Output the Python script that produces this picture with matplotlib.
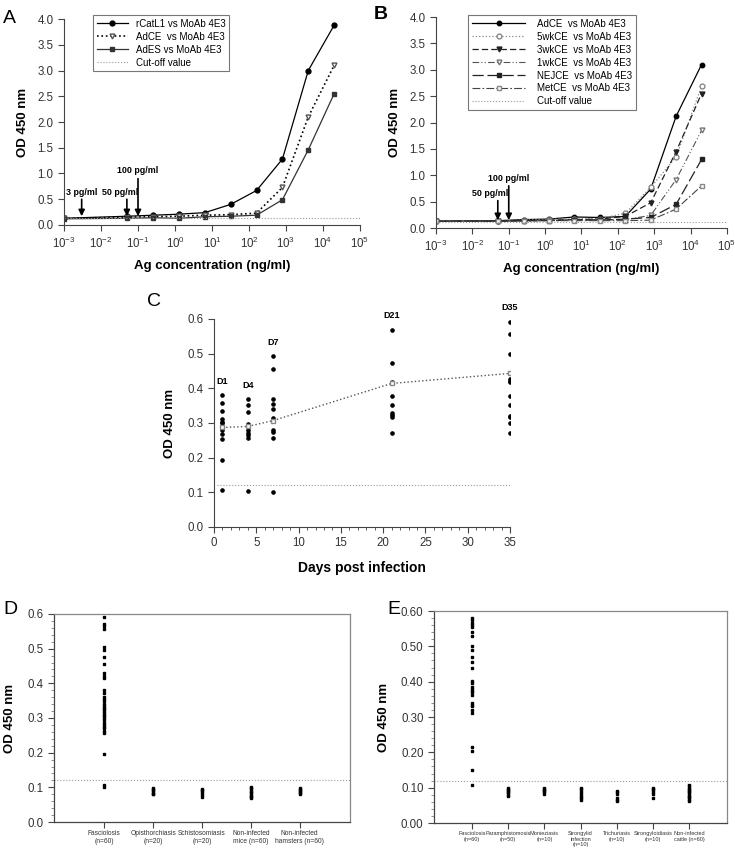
import numpy as np
import matplotlib
matplotlib.use("Agg")
import matplotlib.pyplot as plt
from matplotlib.ticker import LogLocator, MultipleLocator, NullLocator, FormatStrFormatter

plt.rcParams['font.family'] = ['Liberation Sans', 'DejaVu Sans']
plt.rcParams['axes.linewidth'] = 0.8

# ---- data: panel A (antigen titration) ----
conc = [0.001, 0.0512, 0.256, 1.28, 6.4, 32, 160, 800, 4000, 20000]
a_rcatl1 = [0.13, 0.17, 0.19, 0.21, 0.24, 0.40, 0.67, 1.28, 3.00, 3.88]
a_adce = [0.13, 0.15, 0.16, 0.17, 0.19, 0.20, 0.23, 0.73, 2.10, 3.10]
a_ades = [0.12, 0.13, 0.14, 0.13, 0.16, 0.17, 0.19, 0.49, 1.46, 2.55]
a_cutoff = 0.13

# ---- panel B (stage extracts) ----
b_adce = [0.13, 0.14, 0.16, 0.17, 0.21, 0.20, 0.22, 0.74, 2.12, 3.10]
b_5wk = [0.13, 0.13, 0.15, 0.17, 0.17, 0.18, 0.28, 0.77, 1.35, 2.69]
b_3wk = [0.13, 0.13, 0.14, 0.15, 0.16, 0.17, 0.22, 0.48, 1.45, 2.55]
b_1wk = [0.13, 0.13, 0.14, 0.15, 0.15, 0.16, 0.16, 0.24, 0.92, 1.85]
b_nej = [0.13, 0.13, 0.14, 0.14, 0.15, 0.15, 0.17, 0.20, 0.45, 1.30]
b_met = [0.13, 0.13, 0.13, 0.14, 0.14, 0.14, 0.14, 0.15, 0.36, 0.80]
b_cutoff = 0.12

# ---- panel C (days post infection) ----
days = [1, 4, 7, 21, 35]
day_labels = ['D1', 'D4', 'D7', 'D21', 'D35']
c_d1 = [0.380, 0.359, 0.335, 0.311, 0.304, 0.300, 0.287, 0.280, 0.268, 0.255, 0.193, 0.107]
c_d4 = [0.368, 0.353, 0.333, 0.297, 0.289, 0.280, 0.272, 0.265, 0.257, 0.104]
c_d7 = [0.492, 0.455, 0.368, 0.355, 0.340, 0.313, 0.305, 0.280, 0.275, 0.257, 0.101]
c_d21 = [0.569, 0.472, 0.417, 0.379, 0.351, 0.328, 0.323, 0.318, 0.270]
c_d35 = [0.591, 0.556, 0.500, 0.428, 0.422, 0.417, 0.379, 0.351, 0.320, 0.316, 0.300, 0.270]
c_means = [0.287, 0.290, 0.307, 0.414, 0.443]
c_cutoff = 0.12

# ---- panel D (mouse / hamster sera) ----
d_groups = ['Fasciolosis\n(n=60)', 'Opisthorchiasis\n(n=20)', 'Schistosomiasis\n(n=20)',
            'Non-infected\nmice (n=60)', 'Non-infected\nhamsters (n=60)']
d_fasc = [0.591, 0.571, 0.564, 0.557, 0.504, 0.497, 0.475, 0.456, 0.429, 0.421, 0.415,
          0.381, 0.371, 0.362, 0.355, 0.348, 0.340, 0.335, 0.330, 0.325, 0.320, 0.315,
          0.310, 0.305, 0.300, 0.295, 0.285, 0.280, 0.275, 0.270, 0.262, 0.256, 0.195,
          0.106, 0.101]
d_opis = [0.097, 0.094, 0.091, 0.088, 0.085, 0.082, 0.080]
d_schi = [0.096, 0.092, 0.088, 0.083, 0.078, 0.073]
d_mice = [0.100, 0.097, 0.094, 0.090, 0.087, 0.083, 0.079, 0.075, 0.071, 0.068]
d_hams = [0.099, 0.096, 0.093, 0.090, 0.087, 0.084, 0.081]
d_cutoff = 0.12

# ---- panel E (cattle sera) ----
e_groups = ['Fasciolosis\n(n=60)', 'Paramphistomosis\n(n=50)', 'Monieziasis\n(n=10)',
            'Strongylid\ninfection\n(n=10)', 'Trichuriasis\n(n=10)', 'Strongyloidiasis\n(n=10)',
            'Non-infected\ncattle (n=60)']
e_fasc = [0.580, 0.575, 0.565, 0.560, 0.555, 0.540, 0.530, 0.500, 0.490, 0.470, 0.455,
          0.440, 0.402, 0.395, 0.385, 0.380, 0.375, 0.370, 0.362, 0.340, 0.335, 0.330,
          0.320, 0.310, 0.215, 0.203, 0.150, 0.108]
e_para = [0.100, 0.097, 0.094, 0.090, 0.087, 0.084, 0.080, 0.077]
e_moni = [0.100, 0.097, 0.094, 0.090, 0.087, 0.083]
e_stro = [0.100, 0.095, 0.090, 0.085, 0.080, 0.075, 0.070, 0.066]
e_tric = [0.092, 0.088, 0.083, 0.070, 0.065, 0.061]
e_styl = [0.100, 0.097, 0.093, 0.088, 0.083, 0.070]
e_catt = [0.107, 0.104, 0.100, 0.097, 0.094, 0.090, 0.087, 0.084, 0.080, 0.077,
          0.073, 0.070, 0.065, 0.061]
e_cutoff = 0.12

TICK_COL = '#333333'
GREY = '#9a9a9a'
TICK_FS = 8.3


def style_open(ax):
    # only left/bottom spines, outward ticks
    ax.spines['top'].set_visible(False)
    ax.spines['right'].set_visible(False)
    for s in ('left', 'bottom'):
        ax.spines[s].set_color('#444444')
    ax.tick_params(direction='out', length=4, width=0.8, colors='#444444',
                   labelsize=TICK_FS, labelcolor=TICK_COL)


def titration_axes(ax):
    style_open(ax)
    ax.set_xscale('log')
    ax.set_xlim(1e-3, 1e5)
    ax.set_ylim(0, 4.0)
    ax.xaxis.set_major_locator(LogLocator(base=10, numticks=20))
    ax.xaxis.set_minor_locator(NullLocator())
    ax.yaxis.set_major_locator(MultipleLocator(0.5))
    ax.yaxis.set_major_formatter(FormatStrFormatter('%.1f'))
    ax.set_xlabel('Ag concentration (ng/ml)', fontsize=9.5, fontweight='bold', labelpad=7)
    ax.set_ylabel('OD 450 nm', fontsize=9.5, fontweight='bold', labelpad=6)


def arrow(ax, x, y0, y1, label, ty, dx=0):
    ax.annotate('', xy=(x, y1), xytext=(x, y0),
                arrowprops=dict(arrowstyle='-|>', color='black', lw=1.2,
                                mutation_scale=9, shrinkA=0, shrinkB=0))
    ax.text(x * dx if dx else x, ty, label, ha='center', va='bottom',
            fontsize=6.4, fontweight='bold')


fig = plt.figure(figsize=(7.35, 8.49), dpi=100)

# ================= A =================
axA = fig.add_axes([0.0871, 0.735, 0.4027, 0.2426])
titration_axes(axA)
axA.plot(conc, a_rcatl1, '-', color='black', lw=0.9, marker='o', ms=3.5,
         label='rCatL1 vs MoAb 4E3')
axA.plot(conc, a_adce, ':', color='black', lw=1.2, marker='v', ms=3.5, mfc='white',
         mec='#555555', label='AdCE  vs MoAb 4E3')
axA.plot(conc, a_ades, '-', color='#333333', lw=0.9, marker='s', ms=3.5,
         label='AdES vs MoAb 4E3')
axA.axhline(a_cutoff, color=GREY, ls=':', lw=0.8, label='Cut-off value')
arrow(axA, 0.003, 0.50, 0.17, '3 pg/ml', 0.55)
arrow(axA, 0.05, 0.50, 0.17, '50 pg/ml', 0.55, dx=0.66)
arrow(axA, 0.1, 0.90, 0.17, '100 pg/ml', 0.97)
legA = axA.legend(loc='upper left', bbox_to_anchor=(0.098, 1.02), borderaxespad=0,
                  fontsize=7, frameon=True, fancybox=False, handlelength=3.2,
                  labelspacing=0.3, borderpad=0.4, handletextpad=0.8)
legA.get_frame().set_edgecolor('#555555')
legA.get_frame().set_linewidth(0.8)
fig.text(0.004, 0.988, 'A', fontsize=14, va='top')

# ================= B =================
axB = fig.add_axes([0.5932, 0.7314, 0.3959, 0.2485])
titration_axes(axB)
axB.plot(conc, b_adce, '-', color='black', lw=0.9, marker='o', ms=3.2,
         label='AdCE  vs MoAb 4E3')
axB.plot(conc, b_5wk, ':', color='#888888', lw=0.9, marker='o', ms=3.5, mfc='white',
         mec='#888888', label='5wkCE  vs MoAb 4E3')
axB.plot(conc, b_3wk, '--', color='#222222', lw=0.9, marker='v', ms=3.5,
         dashes=(5, 2.5), label='3wkCE  vs MoAb 4E3')
axB.plot(conc, b_1wk, '-', color='#555555', lw=0.8, marker='v', ms=3.5, mfc='white',
         mec='#777777', dashes=(6, 2, 1, 2, 1, 2), label='1wkCE  vs MoAb 4E3')
axB.plot(conc, b_nej, '--', color='#222222', lw=0.9, marker='s', ms=3.2,
         dashes=(9, 3), label='NEJCE  vs MoAb 4E3')
axB.plot(conc, b_met, '-.', color='#444444', lw=0.8, marker='s', ms=3.5, mfc='white',
         mec='#888888', dashes=(7, 2, 1.5, 2), label='MetCE  vs MoAb 4E3')
axB.axhline(b_cutoff, color=GREY, ls=':', lw=0.8, label='Cut-off value')
arrow(axB, 0.05, 0.52, 0.15, '50 pg/ml', 0.57, dx=0.62)
arrow(axB, 0.1, 0.80, 0.15, '100 pg/ml', 0.86)
legB = axB.legend(loc='upper left', bbox_to_anchor=(0.11, 1.01), borderaxespad=0,
                  fontsize=7, frameon=True, fancybox=False, handlelength=5.5,
                  labelspacing=0.3, borderpad=0.4, handletextpad=1.2)
legB.get_frame().set_edgecolor('#555555')
legB.get_frame().set_linewidth(0.8)
fig.text(0.508, 0.993, 'B', fontsize=14, va='top', fontweight='bold')

# ================= C =================
axC = fig.add_axes([0.2912, 0.3793, 0.4027, 0.245])
style_open(axC)
c_groups = [c_d1, c_d4, c_d7, c_d21, c_d35]
for d, vals, lab in zip(days, c_groups, day_labels):
    axC.plot([d] * len(vals), vals, 'o', color='black', ms=2.3, ls='none')
    axC.annotate(lab, xy=(d, max(vals)), xytext=(0, 7), textcoords='offset points',
                 ha='center', va='bottom', fontsize=6.5, fontweight='bold')
axC.plot(days, c_means, ':', color='#555555', lw=1.0, marker='s', ms=3, mfc='white',
         mec='#888888')
axC.plot([0.3, 35], [c_cutoff, c_cutoff], ':', color=GREY, lw=0.8)
axC.set_xlim(0, 35)
axC.set_ylim(0, 0.6)
axC.xaxis.set_major_locator(MultipleLocator(5))
axC.xaxis.set_minor_locator(MultipleLocator(1))
axC.yaxis.set_major_locator(MultipleLocator(0.1))
axC.yaxis.set_major_formatter(FormatStrFormatter('%.1f'))
axC.tick_params(which='minor', direction='out', length=2, width=0.6, colors='#444444')
axC.set_xlabel('Days post infection', fontsize=10, fontweight='bold', labelpad=8)
axC.set_ylabel('OD 450 nm', fontsize=9.5, fontweight='bold', labelpad=8)
fig.text(0.2, 0.655, 'C', fontsize=14, va='top')


# ================= D / E =================
def strip_axes(ax, groups, series, cutoff, fmt, xpad, xfs):
    for s in ax.spines.values():
        s.set_color('#888888')
        s.set_linewidth(0.9)
    ax.spines['left'].set_color('#444444')
    ax.spines['bottom'].set_color('#444444')
    for i, vals in enumerate(series):
        ax.plot([i] * len(vals), vals, 's', color='black', ms=1.8, ls='none')
    ax.axhline(cutoff, color=GREY, ls=':', lw=0.8)
    ax.set_xlim(-xpad, len(groups) - 1 + xpad)
    ax.set_ylim(0, 0.6)
    ax.set_xticks(range(len(groups)))
    ax.set_xticklabels(groups, fontsize=xfs, linespacing=1.05)
    ax.yaxis.set_major_locator(MultipleLocator(0.1))
    ax.yaxis.set_minor_locator(MultipleLocator(0.02))
    ax.yaxis.set_major_formatter(FormatStrFormatter(fmt))
    ax.tick_params(axis='y', direction='out', length=4, width=0.8, colors='#444444',
                   labelsize=TICK_FS, labelcolor=TICK_COL)
    ax.tick_params(axis='y', which='minor', direction='out', length=2, width=0.5,
                   colors='#666666')
    ax.tick_params(axis='x', direction='out', length=4, width=0.8, colors='#444444',
                   labelcolor=TICK_COL, pad=2)
    ax.set_ylabel('OD 450 nm', fontsize=9.5, fontweight='bold', labelpad=8)


axD = fig.add_axes([0.0735, 0.0318, 0.4027, 0.245])
strip_axes(axD, d_groups, [d_fasc, d_opis, d_schi, d_mice, d_hams], d_cutoff, '%.1f',
           1.03, 4.8)
fig.text(0.004, 0.292, 'D', fontsize=14, va='top')

axE = fig.add_axes([0.5905, 0.0306, 0.3986, 0.2497])
strip_axes(axE, e_groups, [e_fasc, e_para, e_moni, e_stro, e_tric, e_styl, e_catt],
           e_cutoff, '%.2f', 1.05, 4.0)
fig.text(0.527, 0.292, 'E', fontsize=14, va='top')

fig.savefig('out.png', dpi=100)
